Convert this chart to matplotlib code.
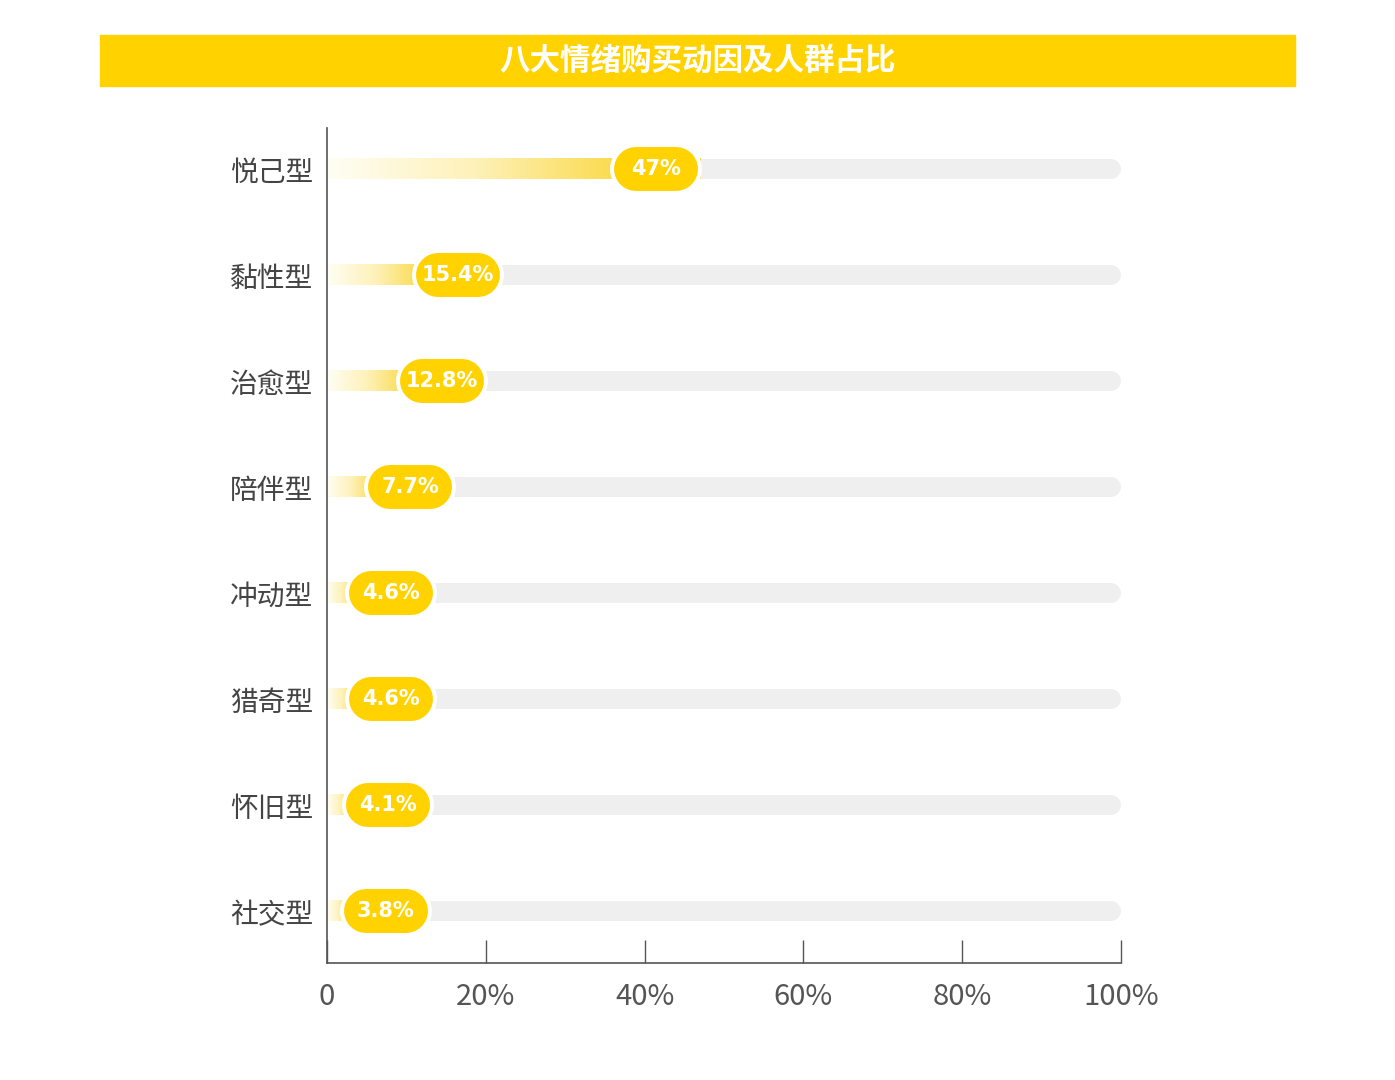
import matplotlib
matplotlib.use("Agg")
import matplotlib.pyplot as plt
import matplotlib.transforms as mtransforms
import numpy as np
from matplotlib.colors import LinearSegmentedColormap

plt.rcParams["font.family"] = ["Noto Sans CJK SC", "DejaVu Sans"]

TITLE = "八大情绪购买动因及人群占比"
categories = ["悦己型", "黏性型", "治愈型", "陪伴型", "冲动型", "猎奇型", "怀旧型", "社交型"]
values = [47, 15.4, 12.8, 7.7, 4.6, 4.6, 4.1, 3.8]
labels = ["47%", "15.4%", "12.8%", "7.7%", "4.6%", "4.6%", "4.1%", "3.8%"]
xticks = [0, 20, 40, 60, 80, 100]
xticklabels = ["0", "20%", "40%", "60%", "80%", "100%"]

YELLOW = "#FFD200"
TRACK = "#EFEFEF"
DPI = 100

fig = plt.figure(figsize=(13.95, 10.8), dpi=DPI)

# title banner
fig.patches.append(plt.Rectangle((100 / 1395, 1 - 86 / 1080), 1195 / 1395, 51 / 1080,
                                 transform=fig.transFigure, color=YELLOW, zorder=0))
fig.text(698 / 1395, 1 - 61 / 1080, TITLE, color="white", fontsize=22, fontweight="bold",
         ha="center", va="center")

ax = fig.add_axes([327 / 1395, 1 - 963 / 1080, 794 / 1395, 835 / 1080])

px_per_unit = 794 / 100
pt = 72 / DPI
track_h = 20  # px
badge_h = 44
badge_w = 84
cap = (track_h / 2) / px_per_unit
badge_half = (badge_w - badge_h) / 2 / px_per_unit

cmap = LinearSegmentedColormap.from_list(
    "g", [(0, "#FFFEF4"), (0.4, "#FEF1B8"), (0.75, "#FBDC55"), (1, "#FAD63A")])
grad = np.linspace(0, 1, 256).reshape(1, -1)
bar_h = track_h / 106

for i, (v, lab) in enumerate(zip(values, labels)):
    # grey track
    ax.plot([cap, 100 - cap], [i, i], color=TRACK, lw=track_h * pt,
            solid_capstyle="round", zorder=1)
    # gradient bar
    ax.imshow(grad, cmap=cmap, aspect="auto", zorder=2,
              extent=(0, v, i + bar_h / 2, i - bar_h / 2))
    # value badge (infographic placement, as in the original layout)
    c = 0.787 * v + 4.4
    ax.plot([c - badge_half, c + badge_half], [i, i], color="white",
            lw=(badge_h + 8) * pt, solid_capstyle="round", zorder=3)
    ax.plot([c - badge_half, c + badge_half], [i, i], color=YELLOW,
            lw=badge_h * pt, solid_capstyle="round", zorder=4)
    ax.text(c, i, lab, color="white", fontsize=15, fontweight="bold",
            ha="center", va="center", zorder=5, family=["DejaVu Sans"])

ax.set_xlim(0, 100)
ax.set_ylim(7.49, -0.387)

ax.set_yticks(range(len(categories)))
ax.set_yticklabels(categories, fontsize=20, color="#444444")
ax.tick_params(axis="y", length=0, pad=10)
shift = mtransforms.ScaledTranslation(0, -4 / DPI, fig.dpi_scale_trans)
for t in ax.get_yticklabels():
    t.set_va("center")
    t.set_transform(t.get_transform() + shift)

ax.set_xticks(xticks)
ax.set_xticklabels(xticklabels, fontsize=21, color="#555555", fontweight="light")
ax.tick_params(axis="x", direction="in", length=16.5, width=1, color="#555555", pad=14)

for s in ["top", "right"]:
    ax.spines[s].set_visible(False)
for s in ["left", "bottom"]:
    ax.spines[s].set_color("#555555")
    ax.spines[s].set_linewidth(1.2)

fig.savefig("out.png", dpi=DPI, facecolor="white")
